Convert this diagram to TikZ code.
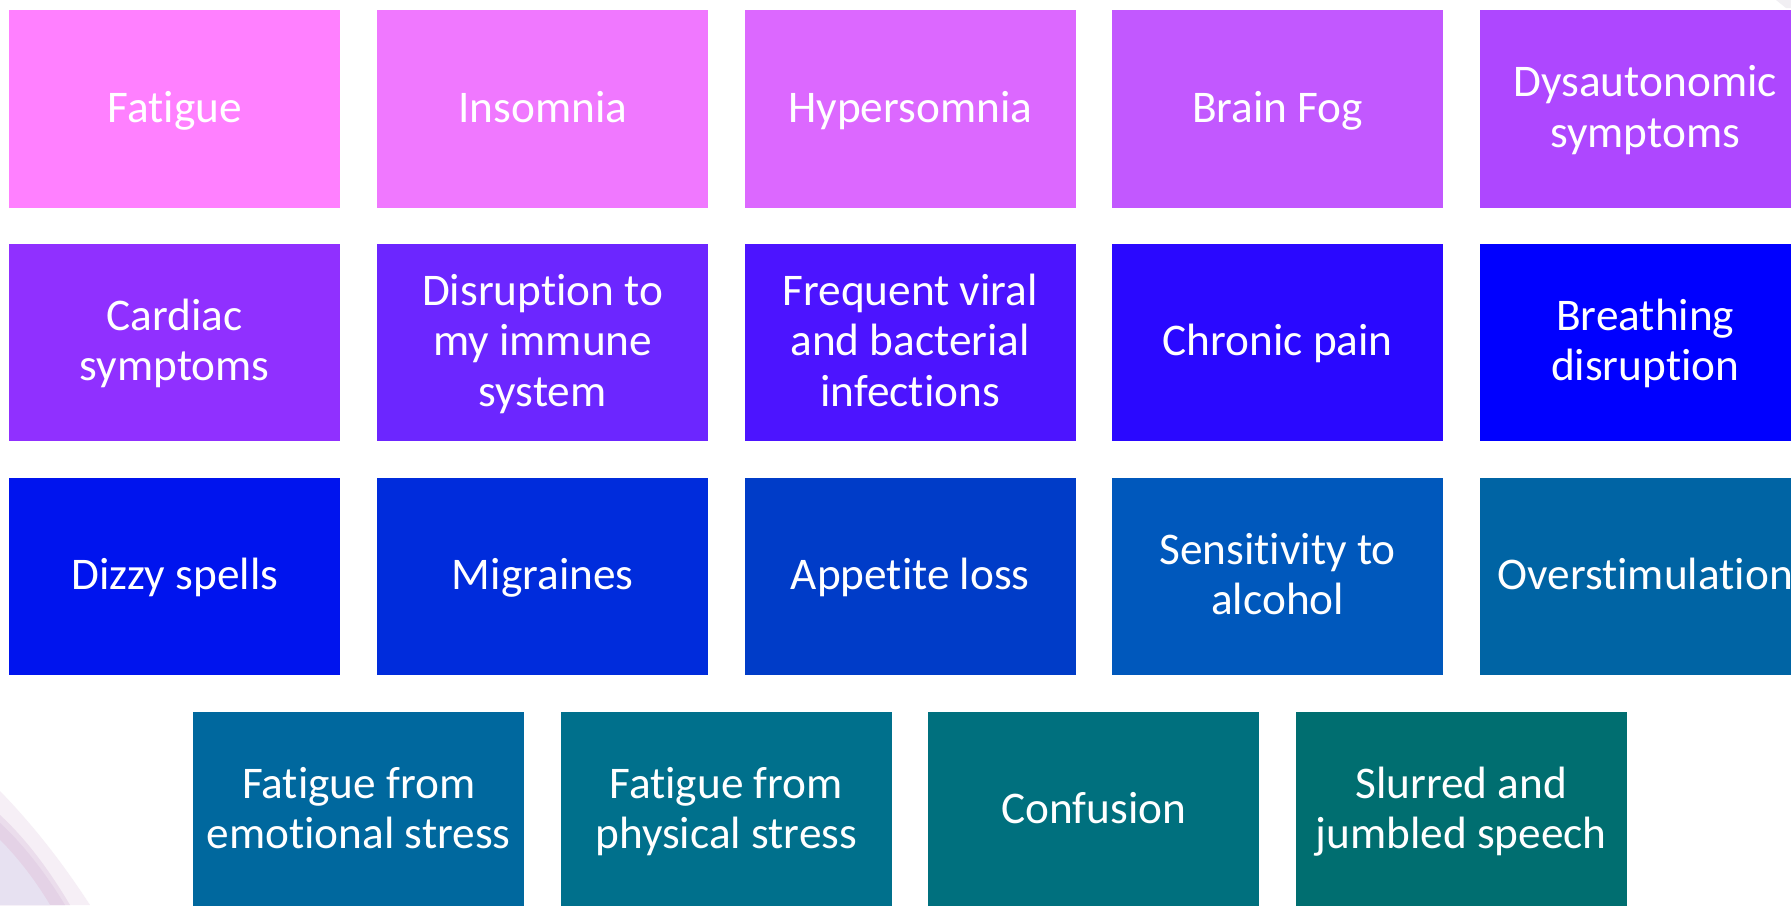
\documentclass[tikz,border=0pt]{standalone}
\usepackage{fontspec}
\setmainfont{Carlito}[RawFeature={-liga;-clig}]
\definecolor{c1}{HTML}{FF80FF}
\definecolor{c2}{HTML}{F078FF}
\definecolor{c3}{HTML}{DC68FF}
\definecolor{c4}{HTML}{C258FF}
\definecolor{c5}{HTML}{AE47FF}
\definecolor{c6}{HTML}{9030FF}
\definecolor{c7}{HTML}{6C26FF}
\definecolor{c8}{HTML}{4C14FF}
\definecolor{c9}{HTML}{2A08FF}
\definecolor{c10}{HTML}{0000FF}
\definecolor{c11}{HTML}{0014EE}
\definecolor{c12}{HTML}{002CDC}
\definecolor{c13}{HTML}{003CC8}
\definecolor{c14}{HTML}{0058BC}
\definecolor{c15}{HTML}{0064A4}
\definecolor{c16}{HTML}{00689E}
\definecolor{c17}{HTML}{00708C}
\definecolor{c18}{HTML}{00707E}
\definecolor{c19}{HTML}{006E70}
\definecolor{sw1}{HTML}{F6EFF6}
\definecolor{sw2}{HTML}{EBDDEC}
\definecolor{sw3}{HTML}{E4D2E6}
\definecolor{sw4}{HTML}{E7E1F1}
\definecolor{corner}{HTML}{F1EFF3}
\tikzset{x=1pt,y=-1pt,
 tile/.style={minimum width=331pt,minimum height=197.5pt,inner sep=0pt,align=center,text=white,anchor=north west,
  font=\fontsize{45.3}{50.5}\selectfont,execute at begin node=\rule{0pt}{41.35pt},execute at end node=\strut},
 tilemulti/.style={tile,text width=331pt,align=flush center}}
\begin{document}
\begin{tikzpicture}
\useasboundingbox (0,0) rectangle (1791,905);
\fill[white] (0,0) rectangle (1791,905);
\fill[corner] (1776,0) -- (1786,8) -- (1791,8) -- (1791,0) -- cycle;
\fill[sw1] (0,791) .. controls (33,825) and (62,862) .. (90,905) -- (0,905) -- cycle;
\fill[sw2] (0,815) .. controls (25,838) and (48,868) .. (70,905) -- (0,905) -- cycle;
\fill[sw3] (0,823) .. controls (22,843) and (45,872) .. (65,905) -- (0,905) -- cycle;
\fill[sw4] (0,840) .. controls (18,858) and (35,880) .. (50,905) -- (0,905) -- cycle;
\node[tile,fill=c1] (a1) at (9,10) {Fatigue};
\node[tile,fill=c2] (a2) at (377,10) {Insomnia};
\node[tile,fill=c3] (a3) at (744.5,10) {Hypersomnia};
\node[tile,fill=c4] (a4) at (1112,10) {Brain Fog};
\node[tilemulti,fill=c5] (a5) at (1479.5,10) {Dysautonomic\\symptoms};
\node[tilemulti,fill=c6] (b1) at (9,243.5) {Cardiac\\symptoms};
\node[tilemulti,fill=c7] (b2) at (377,243.5) {Disruption to\\my immune\\system};
\node[tilemulti,fill=c8] (b3) at (744.5,243.5) {Frequent viral\\and bacterial\\infections};
\node[tile,fill=c9] (b4) at (1112,243.5) {Chronic pain};
\node[tilemulti,fill=c10] (b5) at (1479.5,243.5) {Breathing\\disruption};
\node[tile,fill=c11] (c1n) at (9,477.5) {Dizzy spells};
\node[tile,fill=c12] (c2n) at (377,477.5) {Migraines};
\node[tile,fill=c13] (c3n) at (744.5,477.5) {Appetite loss};
\node[tilemulti,fill=c14] (c4n) at (1112,477.5) {Sensitivity to\\alcohol};
\node[tile,fill=c15] (c5n) at (1479.5,477.5) {Overstimulation};
\node[tilemulti,fill=c16] (d1) at (193,711.5) {Fatigue from\\emotional stress};
\node[tilemulti,fill=c17] (d2) at (560.5,711.5) {Fatigue from\\physical stress};
\node[tile,fill=c18] (d3) at (928,711.5) {Confusion};
\node[tilemulti,fill=c19] (d4) at (1295.5,711.5) {Slurred and\\jumbled speech};
\end{tikzpicture}
\end{document}
